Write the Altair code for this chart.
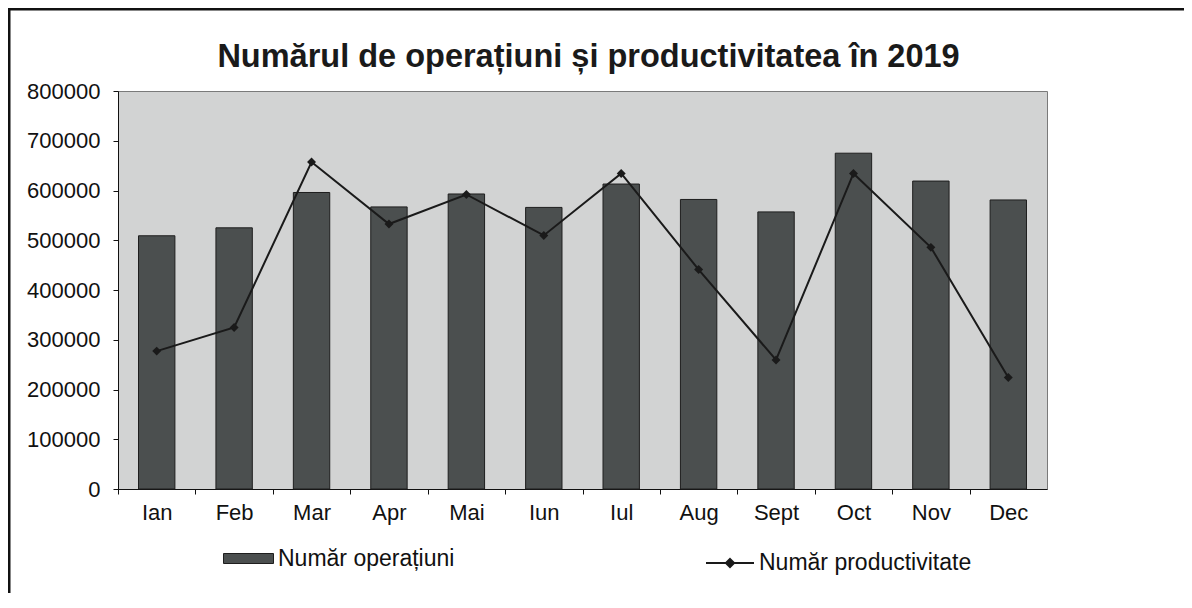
import altair as alt
import pandas as pd

luni = ["Ian", "Feb", "Mar", "Apr", "Mai", "Iun", "Iul", "Aug", "Sept", "Oct", "Nov", "Dec"]
operatiuni = [509000, 525000, 596000, 567000, 593000, 566000, 613000, 582000, 557000, 675000, 619000, 581000]
productivitate = [4485, 4568, 5150, 4932, 5036, 4892, 5110, 4772, 4454, 5110, 4850, 4392]

ser_bar = "Număr operațiuni"
ser_line = "Număr productivitate"

df = pd.DataFrame({
    "luna": luni,
    "operatiuni": operatiuni,
    "productivitate": productivitate,
    "s_bar": [ser_bar] * len(luni),
    "s_line": [ser_line] * len(luni),
})

FONT = "Liberation Sans"
W, H = 929, 398
STEP = W / len(luni)

x_enc = alt.X(
    "luna:N",
    sort=luni,
    title=None,
    scale=alt.Scale(paddingInner=0.53, paddingOuter=0.265),
    axis=alt.Axis(
        labelAngle=0, labelFontSize=22, labelFont=FONT, labelColor="#111",
        labelPadding=8, tickSize=5, tickColor="#111", domainColor="#111",
        tickOffset=-STEP / 2, labelOffset=STEP / 2, grid=False,
    ),
)

frame = alt.Chart(pd.DataFrame({"a": [0]})).mark_rect(
    fill=None, stroke="#111", strokeWidth=3
).encode(
    x=alt.value(-109), x2=alt.value(1200), y=alt.value(-82), y2=alt.value(700)
)

bars = alt.Chart(df).mark_bar(stroke="#1e1e1e", strokeWidth=1).encode(
    x=x_enc,
    y=alt.Y(
        "operatiuni:Q", title=None,
        scale=alt.Scale(domain=[0, 800000], nice=False),
        axis=alt.Axis(
            values=list(range(0, 800001, 100000)), format="d", orient="left",
            labelFontSize=22, labelFont=FONT, labelColor="#111", labelPadding=13,
            tickSize=5, tickColor="#111", domainColor="#111", grid=False,
        ),
    ),
    fill=alt.Fill(
        "s_bar:N",
        scale=alt.Scale(domain=[ser_bar], range=["#4b4f4f"]),
        legend=alt.Legend(
            title=None, orient="none", legendX=105, legendY=442, padding=0,
            symbolType="M-1,-0.2H1V0.2H-1Z", symbolSize=2500,
            symbolStrokeColor="#1e1e1e", symbolStrokeWidth=1,
            labelFontSize=23, labelFont=FONT, labelColor="#111", labelOffset=4,
            labelLimit=500,
        ),
    ),
)

y_line = alt.Y(
    "productivitate:Q", title=None,
    scale=alt.Scale(domain=[4000, 5400], nice=False, zero=False),
    axis=alt.Axis(
        values=list(range(4000, 5401, 200)), format=",.2f", orient="right",
        labelFontSize=22, labelFont=FONT, labelColor="#111", labelPadding=15,
        tickSize=6, tickColor="#111", domainColor="#111", grid=False,
    ),
)

line = alt.Chart(df).mark_line(strokeWidth=2).encode(
    x=x_enc,
    y=y_line,
    stroke=alt.Stroke(
        "s_line:N",
        scale=alt.Scale(domain=[ser_line], range=["#1a1a1a"]),
        legend=alt.Legend(
            title=None, orient="none", legendX=587, legendY=447, padding=0,
            symbolType="M-1,0H1M0,-0.17L0.17,0L0,0.17L-0.17,0Z", symbolSize=2304,
            symbolFillColor="#1a1a1a", symbolStrokeWidth=2,
            labelFontSize=23, labelFont=FONT, labelColor="#111", labelOffset=4,
            labelLimit=500,
        ),
    ),
)

points = alt.Chart(df).mark_point(
    shape="diamond", filled=True, size=80, color="#1a1a1a", opacity=1
).encode(x=x_enc, y=alt.Y("productivitate:Q", axis=None))

line_layer = alt.layer(line, points)

chart = alt.layer(frame, bars, line_layer).resolve_scale(
    y="independent", fill="independent", stroke="independent"
).properties(
    width=W, height=H,
    padding={"left": 110, "top": 83, "right": 137, "bottom": 104},
    autosize=alt.AutoSizeParams(type="none"),
    background="white",
    title=alt.TitleParams(
        "Numărul de operațiuni și productivitatea în 2019",
        fontSize=32.5, font=FONT, fontWeight="bold", color="#1a1a1a",
        anchor="middle", frame="group", dx=6, offset=-99, baseline="bottom",
    ),
).configure_view(
    fill="#d2d3d3", stroke="#7a7a7a", strokeWidth=1
)

chart.save("out.html", embed_options={"renderer": "svg", "actions": False})
